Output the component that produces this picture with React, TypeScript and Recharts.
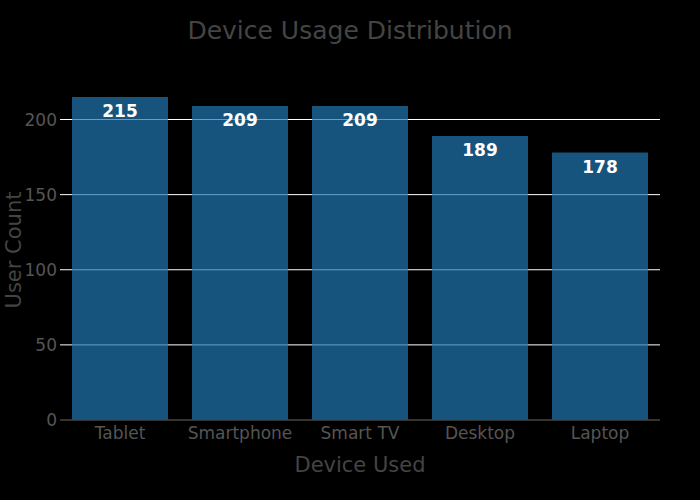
import React from 'react';
import { BarChart, Bar, XAxis, YAxis, CartesianGrid, LabelList } from 'recharts';

const categories = ['Tablet', 'Smartphone', 'Smart TV', 'Desktop', 'Laptop'];
const userCounts = [215, 209, 209, 189, 178];
const yTicks = [0, 50, 100, 150, 200];
const gridValues = [50, 100, 150, 200];

const data = categories.map((c, i) => ({ device: c, count: userCounts[i] }));

const FONT = '"DejaVu Sans", Verdana, sans-serif';

export default function App() {
  return (
    <div style={{ position: 'absolute', left: 0, top: 0, width: 700, height: 500, background: '#000', fontFamily: FONT }}>
      <div style={{ position: 'absolute', left: 0, top: 14, width: 700, textAlign: 'center', fontSize: 25, color: '#444', lineHeight: '34px' }}>
        Device Usage Distribution
      </div>
      <BarChart
        width={700}
        height={500}
        data={data}
        margin={{ top: 80, right: 40, bottom: 50, left: 0 }}
        barCategoryGap="10%"
      >
        <CartesianGrid
          vertical={false}
          stroke="#ffffff"
          strokeWidth={1}
          {...({ horizontalValues: gridValues } as any)}
        />
        <XAxis
          dataKey="device"
          height={30}
          axisLine={{ stroke: '#444', strokeWidth: 1.5 }}
          tickLine={false}
          tick={{ fill: '#555', fontSize: 17, fontFamily: FONT }}
          tickMargin={1}
          label={{ value: 'Device Used', position: 'insideBottom', offset: -22, fill: '#444', fontSize: 21, fontFamily: FONT }}
        />
        <YAxis
          width={60}
          domain={[0, 226.3]}
          ticks={yTicks}
          axisLine={false}
          tickLine={false}
          tickMargin={0}
          tick={{ fill: '#555', fontSize: 17, fontFamily: FONT, dx: 3 }}
          label={{ value: 'User Count', angle: -90, position: 'insideLeft', offset: 14, fill: '#444', fontSize: 21, fontFamily: FONT, style: { textAnchor: 'middle' } }}
        />
        <Bar dataKey="count" fill="#1f77b4" fillOpacity={0.7} isAnimationActive={false}>
          <LabelList dataKey="count" position="insideTop" offset={8} fill="#fff" fontSize={17} fontWeight="bold" fontFamily={FONT} />
        </Bar>
      </BarChart>
    </div>
  );
}
